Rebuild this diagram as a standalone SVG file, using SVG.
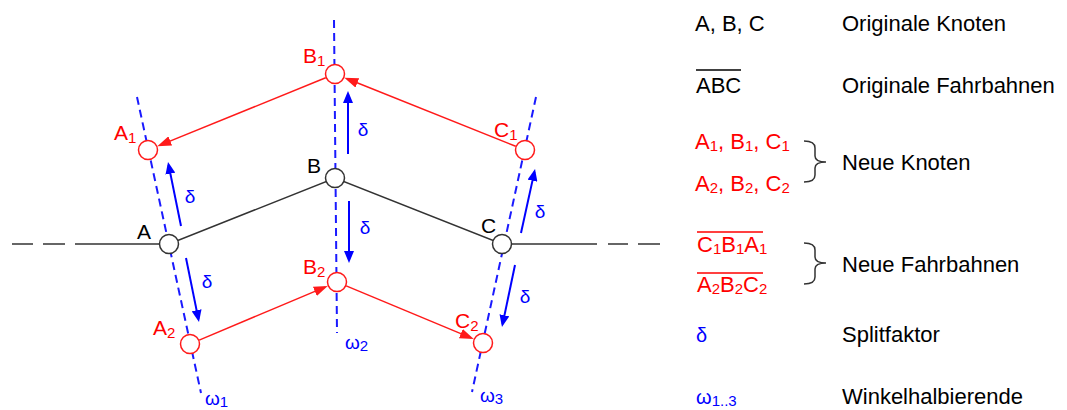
<svg xmlns="http://www.w3.org/2000/svg" width="1067" height="410" viewBox="0 0 1067 410">
<style>
text{font-family:"Liberation Sans",Arial,sans-serif}
.blk{fill:#000}
.red{fill:#ff0000}
.blue{fill:#0000ff}
.lbl{font-size:21px}
.leg{font-size:22px}
.sub{font-size:15px}
.lsub{font-size:15px}
.dl{font-size:19px}
.bis{stroke:#1a1aff;stroke-width:2;stroke-dasharray:8 5;fill:none}
.road{stroke:#333;stroke-width:1.5;fill:none}
.nroad{stroke:#ff1a1a;stroke-width:1.5;fill:none}
.darr{stroke:#0000ff;stroke-width:2;fill:none}
.on{fill:#fff;stroke:#333;stroke-width:1.5}
.nn{fill:#fff;stroke:#ff1a1a;stroke-width:1.5}
.brace{stroke:#333;stroke-width:1.5;fill:none}
</style>
<defs>
<marker id="ra" markerUnits="userSpaceOnUse" markerWidth="14" markerHeight="10" refX="11" refY="5" orient="auto"><path d="M0,0 L14,5 L0,10 z" fill="#ff1a1a"/></marker>
<marker id="ba" markerUnits="userSpaceOnUse" markerWidth="12" markerHeight="10" refX="9" refY="5" orient="auto"><path d="M0,0 L12,5 L0,10 z" fill="#0000ff"/></marker>
</defs>
<g id="connectors">
<line class="bis" x1="137" y1="97" x2="201" y2="393"/>
<line class="bis" x1="334" y1="20" x2="337" y2="333"/>
<line class="bis" x1="536" y1="97" x2="472" y2="392"/>
<line class="road" x1="12" y1="244" x2="33" y2="244"/>
<line class="road" x1="43" y1="244" x2="65" y2="244"/>
<polyline class="road" points="75,244 169,244 335,178 502,244 597,244"/>
<line class="road" x1="608" y1="244" x2="628" y2="244"/>
<line class="road" x1="638" y1="244" x2="660" y2="244"/>
<line class="nroad" x1="325.7" y1="77.8" x2="160.1" y2="145.1" marker-end="url(#ra)"/>
<line class="nroad" x1="515.7" y1="146.3" x2="347.1" y2="78.8" marker-end="url(#ra)"/>
<line class="nroad" x1="199.2" y1="340.1" x2="325.0" y2="287.1" marker-end="url(#ra)"/>
<line class="nroad" x1="346.2" y1="285.9" x2="471.0" y2="337.9" marker-end="url(#ra)"/>
<line class="darr" x1="181" y1="226" x2="168.6" y2="164.9" marker-end="url(#ba)"/>
<line class="darr" x1="186" y1="258" x2="198.4" y2="319.1" marker-end="url(#ba)"/>
<line class="darr" x1="348" y1="154" x2="348" y2="94" marker-end="url(#ba)"/>
<line class="darr" x1="349" y1="201" x2="349" y2="260" marker-end="url(#ba)"/>
<line class="darr" x1="521" y1="233" x2="534.4" y2="171.9" marker-end="url(#ba)"/>
<line class="darr" x1="515" y1="265" x2="502.6" y2="324.1" marker-end="url(#ba)"/>
<text class="blue dl" x="190" y="203" text-anchor="middle">δ</text>
<text class="blue dl" x="207" y="288" text-anchor="middle">δ</text>
<text class="blue dl" x="363" y="136" text-anchor="middle">δ</text>
<text class="blue dl" x="365" y="234" text-anchor="middle">δ</text>
<text class="blue dl" x="540" y="218" text-anchor="middle">δ</text>
<text class="blue dl" x="525" y="303" text-anchor="middle">δ</text>
<text class="blue dl" x="205" y="405">ω<tspan class="sub" dy="2">1</tspan></text>
<text class="blue dl" x="345" y="349">ω<tspan class="sub" dy="2">2</tspan></text>
<text class="blue dl" x="480" y="402">ω<tspan class="sub" dy="2">3</tspan></text>
</g>
<g id="node-A"><circle class="on" cx="169" cy="244" r="9.5"/><text class="blk lbl" x="137" y="239">A</text></g>
<g id="node-B"><circle class="on" cx="335" cy="178" r="9.5"/><text class="blk lbl" x="307" y="173">B</text></g>
<g id="node-C"><circle class="on" cx="502" cy="244" r="9.5"/><text class="blk lbl" x="481" y="233">C</text></g>
<g id="node-A1"><circle class="nn" cx="148" cy="150" r="9.5"/><text class="red lbl" x="114" y="140">A<tspan class="sub" dy="3">1</tspan></text></g>
<g id="node-B1"><circle class="nn" cx="335" cy="74" r="9.5"/><text class="red lbl" x="303" y="63">B<tspan class="sub" dy="3">1</tspan></text></g>
<g id="node-C1"><circle class="nn" cx="525" cy="150" r="9.5"/><text class="red lbl" x="494" y="137">C<tspan class="sub" dy="3">1</tspan></text></g>
<g id="node-A2"><circle class="nn" cx="190" cy="344" r="9.5"/><text class="red lbl" x="153" y="335">A<tspan class="sub" dy="3">2</tspan></text></g>
<g id="node-B2"><circle class="nn" cx="337" cy="282" r="9.5"/><text class="red lbl" x="303" y="274">B<tspan class="sub" dy="3">2</tspan></text></g>
<g id="node-C2"><circle class="nn" cx="483" cy="343" r="9.5"/><text class="red lbl" x="455" y="328">C<tspan class="sub" dy="3">2</tspan></text></g>
<g id="legend">
<text class="blk leg" x="695" y="31">A, B, C</text>
<text class="blk leg" x="842" y="31">Originale Knoten</text>
<line x1="696" y1="70" x2="741" y2="70" stroke="#000" stroke-width="1.3"/>
<text class="blk leg" x="696" y="93">ABC</text>
<text class="blk leg" x="842" y="93">Originale Fahrbahnen</text>
<text class="red leg" x="695" y="149">A<tspan class="lsub" dy="2">1</tspan><tspan dy="-2">, B</tspan><tspan class="lsub" dy="2">1</tspan><tspan dy="-2">, C</tspan><tspan class="lsub" dy="2">1</tspan></text>
<text class="red leg" x="695" y="191">A<tspan class="lsub" dy="2">2</tspan><tspan dy="-2">, B</tspan><tspan class="lsub" dy="2">2</tspan><tspan dy="-2">, C</tspan><tspan class="lsub" dy="2">2</tspan></text>
<path class="brace" d="M804,141 Q815,141 815,148 L815,156 Q815,162 826,162 Q815,162 815,168 L815,175 Q815,182 804,182"/>
<text class="blk leg" x="842" y="170">Neue Knoten</text>
<line x1="697" y1="232" x2="763" y2="232" stroke="#ff0000" stroke-width="1.3"/>
<text class="red leg" x="697" y="252">C<tspan class="lsub" dy="2">1</tspan><tspan dy="-2">B</tspan><tspan class="lsub" dy="2">1</tspan><tspan dy="-2">A</tspan><tspan class="lsub" dy="2">1</tspan></text>
<line x1="697" y1="273" x2="763" y2="273" stroke="#ff0000" stroke-width="1.3"/>
<text class="red leg" x="697" y="292">A<tspan class="lsub" dy="2">2</tspan><tspan dy="-2">B</tspan><tspan class="lsub" dy="2">2</tspan><tspan dy="-2">C</tspan><tspan class="lsub" dy="2">2</tspan></text>
<path class="brace" d="M804,243 Q815,243 815,250 L815,257 Q815,263 826,263 Q815,263 815,269 L815,277 Q815,284 804,284"/>
<text class="blk leg" x="842" y="272">Neue Fahrbahnen</text>
<text class="blue" style="font-size:20px" x="696" y="342">δ</text>
<text class="blk leg" x="842" y="342">Splitfaktor</text>
<text class="blue" style="font-size:20px" x="696" y="404">ω<tspan class="lsub" dy="2">1..3</tspan></text>
<text class="blk leg" x="842" y="404">Winkelhalbierende</text>
</g>
</svg>
